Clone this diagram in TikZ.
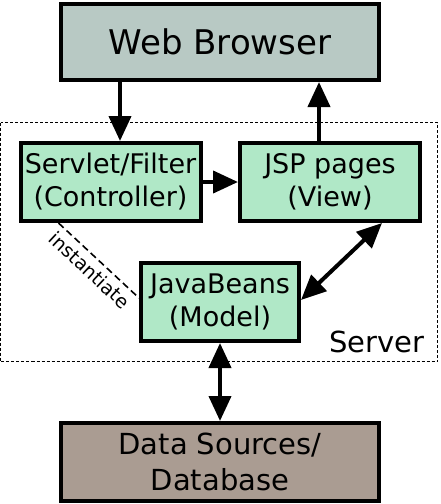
\documentclass[tikz,border=0pt]{standalone}
\usepackage{fontspec}
\setmainfont{DejaVu Sans}
\usetikzlibrary{arrows.meta, positioning}
\definecolor{browsergray}{RGB}{184,201,196}
\definecolor{beangreen}{RGB}{176,232,199}
\definecolor{dbbrown}{RGB}{170,156,146}

\begin{document}
\begin{tikzpicture}[x=1pt, y=-1pt,
    box/.style={draw, line width=4pt, inner sep=0pt, align=center, fill=beangreen,
        minimum width=180pt, minimum height=78pt, font=\fontsize{27}{33}\selectfont},
    tier/.style={box, minimum width=318pt, minimum height=76pt},
    flow/.style={line width=4pt, -{Triangle[length=25pt, width=22pt]}},
    both/.style={flow, {Triangle[length=25pt, width=22pt]}-{Triangle[length=25pt, width=22pt]}}]
    \useasboundingbox (0,0) rectangle (440,504);

    \draw[line width=0.8pt, dash pattern=on 3pt off 2pt] (0.5,122.5) rectangle (437.5,361.5);
    \node[anchor=base east, font=\fontsize{29}{35}\selectfont] (serverlabel) at (428,352) {Server};

    \node[tier, fill=browsergray, font=\fontsize{34}{40}\selectfont] (browser) at (220,42) {Web Browser};
    \node[box] (servlet) at (110.5,182) {Servlet/Filter\\(Controller)};
    \node[box] (jsp) at (330,182) {JSP pages\\(View)};
    \node[box, minimum width=158pt] (beans) at (220,302) {JavaBeans\\(Model)};
    \node[tier, fill=dbbrown, minimum height=78pt, font=\fontsize{29}{36}\selectfont] (db) at (220,462) {Data Sources/\\Database};

    \draw[flow] ([xshift=-100pt]browser.south) -- ([xshift=9.5pt]servlet.north);
    \draw[flow] ([xshift=-11pt]jsp.north) -- ([xshift=-11pt]jsp.north |- browser.south);
    \draw[flow] (servlet.east) -- (jsp.west);
    \draw[both] ([yshift=2pt]beans.east) -- ([xshift=-40pt]jsp.south east);
    \draw[both] (beans.south) -- (db.north);

    \draw[line width=1.6pt, dash pattern=on 7pt off 4pt] ([xshift=40pt]servlet.south west) -- ([yshift=4pt]beans.west)
        node[midway, below, sloped, inner sep=5pt, font=\fontsize{19}{22}\selectfont] (instlabel) {instantiate};
\end{tikzpicture}
\end{document}
